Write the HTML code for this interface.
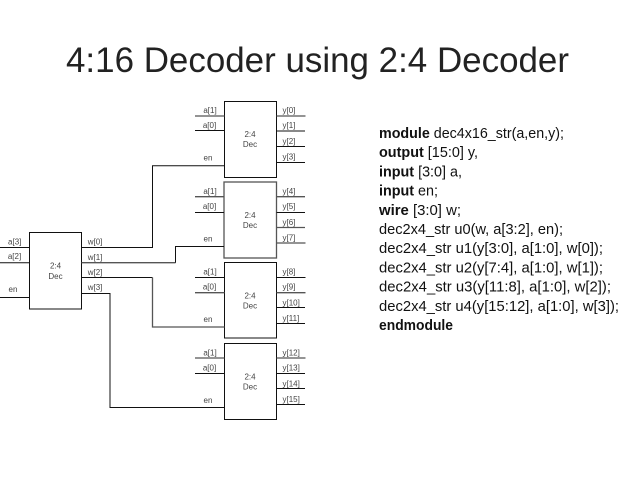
<!DOCTYPE html>
<html><head><meta charset="utf-8"><style>
html,body{margin:0;padding:0;background:#fff}
svg{display:block}
text{font-family:"Liberation Sans",sans-serif}
.t{font-size:8px;fill:#444}
.m{text-anchor:middle}
.c{font-size:14.5px;fill:#111}
.c tspan.b{font-weight:bold}
.l{stroke:#111;stroke-width:1;fill:none}
.g{stroke:#555;stroke-width:1.3;fill:none}
</style></head><body>
<svg width="638" height="479" viewBox="0 0 638 479" xmlns="http://www.w3.org/2000/svg">
<rect width="638" height="479" fill="#fff"/>
<text x="66" y="72" font-size="35" fill="#222" textLength="503" lengthAdjust="spacingAndGlyphs">4:16 Decoder using 2:4 Decoder</text>

<!-- boxes -->
<rect class="l" x="224.5" y="101.5" width="52" height="76"/>
<rect class="g" x="224" y="182" width="52.5" height="76"/>
<rect class="l" x="224.5" y="262.5" width="52" height="75.5"/>
<rect class="l" x="224.5" y="343.5" width="52" height="76"/>
<rect class="l" x="29.5" y="232.5" width="52" height="76.5"/>

<!-- box 1 wires -->
<path class="g" d="M195 116H224.5M276.5 116H305.5"/>
<path class="l" d="M195 130.5H224.5M276.5 131H305M276.5 146.5H305M276.5 162.5H305"/>
<!-- box 2 wires -->
<path class="g" d="M195 196.7H224M276.5 196.7H305M276.5 227.5H305M276.5 243H305.5"/>
<path class="l" d="M195 212.5H224M276.5 212.5H305"/>
<!-- box 3 wires -->
<path class="l" d="M195 277.5H224.5M276.5 277.5H305.5M276.5 307.5H305M276.5 323.5H305"/>
<path class="g" d="M195 292.7H224.5M276.5 292.7H305.5"/>
<!-- box 4 wires -->
<path class="g" d="M195 358H224.5M276.5 358H305.5"/>
<path class="l" d="M195 373.5H224.5M276.5 373.5H305M276.5 388.5H305M276.5 404.5H305"/>

<!-- left box wires -->
<path class="l" d="M0 247.5H29.5M0 297.5H29.5M0 262.7H29.5"/>
<!-- connectors -->
<path class="l" d="M81.5 247.5H152.5V165.7H224.5"/>
<path class="g" d="M81.5 262.7H175.5"/>
<path class="l" d="M175.5 262.7V246.5H224"/>
<path class="l" d="M81.5 277.5H152.5"/>
<path class="g" d="M152.5 277.5V327H224.5"/>
<path class="l" d="M81.5 293.5H110V407.5H224.5"/>

<!-- labels -->
<g class="t">
<text class="t m" x="210" y="113">a[1]</text><text class="t m" x="209.500" y="128">a[0]</text><text class="t m" x="208" y="160.500">en</text>
<text class="t" x="282.500" y="113">y[0]</text><text class="t" x="282.500" y="128">y[1]</text><text class="t" x="282.500" y="144">y[2]</text><text class="t" x="282.500" y="159.500">y[3]</text>
<text class="t m" x="250" y="137">2:4</text><text class="t m" x="250" y="147">Dec</text>

<text class="t m" x="210" y="194">a[1]</text><text class="t m" x="209.500" y="209">a[0]</text><text class="t m" x="208" y="241.500">en</text>
<text class="t" x="282.500" y="194">y[4]</text><text class="t" x="282.500" y="209">y[5]</text><text class="t" x="282.500" y="225">y[6]</text><text class="t" x="282.500" y="240.500">y[7]</text>
<text class="t m" x="250" y="218">2:4</text><text class="t m" x="250" y="228">Dec</text>

<text class="t m" x="210" y="274.500">a[1]</text><text class="t m" x="209.500" y="289.500">a[0]</text><text class="t m" x="208" y="322">en</text>
<text class="t" x="282.500" y="274.500">y[8]</text><text class="t" x="282.500" y="289.500">y[9]</text><text class="t" x="282.500" y="305.500">y[10]</text><text class="t" x="282.500" y="321">y[11]</text>
<text class="t m" x="250" y="298.500">2:4</text><text class="t m" x="250" y="308.500">Dec</text>

<text class="t m" x="210" y="355.500">a[1]</text><text class="t m" x="209.500" y="370.500">a[0]</text><text class="t m" x="208" y="403">en</text>
<text class="t" x="282.500" y="355.500">y[12]</text><text class="t" x="282.500" y="370.500">y[13]</text><text class="t" x="282.500" y="386.500">y[14]</text><text class="t" x="282.500" y="402">y[15]</text>
<text class="t m" x="250" y="379.500">2:4</text><text class="t m" x="250" y="389.500">Dec</text>

<text class="t m" x="14.700" y="244.700">a[3]</text><text class="t m" x="14.500" y="259">a[2]</text><text class="t m" x="13" y="292">en</text>
<text class="t" x="87.700" y="244.700">w[0]</text><text class="t" x="87.700" y="260">w[1]</text><text class="t" x="87.700" y="275">w[2]</text><text class="t" x="87.700" y="290">w[3]</text>
<text class="t m" x="55.500" y="268.700">2:4</text><text class="t m" x="55.500" y="279">Dec</text>
</g>

<!-- code -->
<text class="c" x="379" y="138" textLength="185" lengthAdjust="spacingAndGlyphs"><tspan class="b">module</tspan> dec4x16_str(a,en,y);</text>
<text class="c" x="379" y="157.200" textLength="99" lengthAdjust="spacingAndGlyphs"><tspan class="b">output</tspan> [15:0] y,</text>
<text class="c" x="379" y="176.400" textLength="83" lengthAdjust="spacingAndGlyphs"><tspan class="b">input</tspan> [3:0] a,</text>
<text class="c" x="379" y="195.600" textLength="59" lengthAdjust="spacingAndGlyphs"><tspan class="b">input</tspan> en;</text>
<text class="c" x="379" y="214.800" textLength="82" lengthAdjust="spacingAndGlyphs"><tspan class="b">wire</tspan> [3:0] w;</text>
<text class="c" x="379" y="234" textLength="184" lengthAdjust="spacingAndGlyphs">dec2x4_str u0(w, a[3:2], en);</text>
<text class="c" x="379" y="253.200" textLength="224" lengthAdjust="spacingAndGlyphs">dec2x4_str u1(y[3:0], a[1:0], w[0]);</text>
<text class="c" x="379" y="272.400" textLength="224" lengthAdjust="spacingAndGlyphs">dec2x4_str u2(y[7:4], a[1:0], w[1]);</text>
<text class="c" x="379" y="291.600" textLength="232" lengthAdjust="spacingAndGlyphs">dec2x4_str u3(y[11:8], a[1:0], w[2]);</text>
<text class="c" x="379" y="310.800" textLength="240" lengthAdjust="spacingAndGlyphs">dec2x4_str u4(y[15:12], a[1:0], w[3]);</text>
<text class="c" x="379" y="330" textLength="74" lengthAdjust="spacingAndGlyphs"><tspan class="b">endmodule</tspan></text>
</svg>
</body></html>
